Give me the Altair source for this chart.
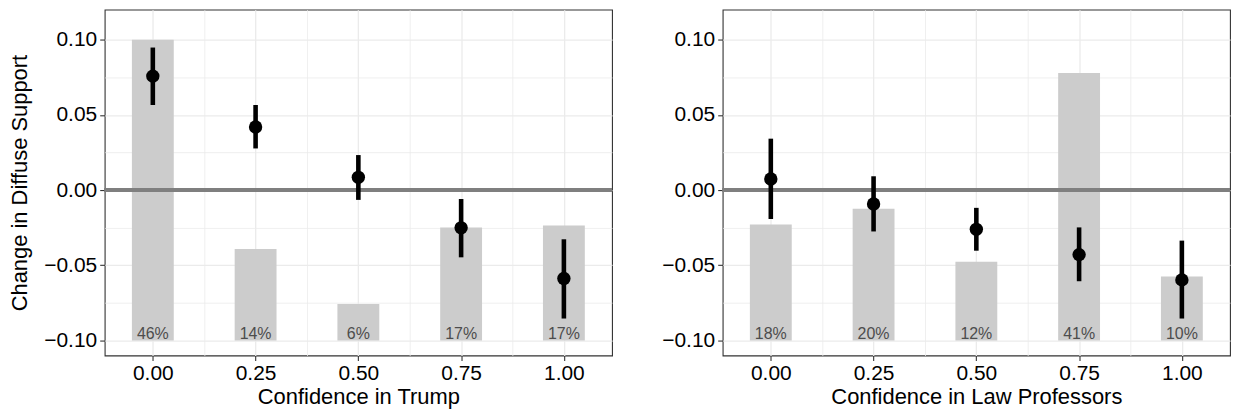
import altair as alt
import pandas as pd

# ---- data ----
conf_levels = [0.00, 0.25, 0.50, 0.75, 1.00]

trump_est = [0.0758, 0.0420, 0.0085, -0.0251, -0.0588]
trump_lo = [0.0566, 0.0277, -0.0065, -0.0447, -0.0854]
trump_hi = [0.0948, 0.0566, 0.0233, -0.0059, -0.0327]
trump_bar_top = [0.1000, -0.0392, -0.0758, -0.0248, -0.0235]
trump_pct = ["46%", "14%", "6%", "17%", "17%"]

law_est = [0.0074, -0.0092, -0.0261, -0.0429, -0.0597]
law_lo = [-0.0192, -0.0275, -0.0403, -0.0606, -0.0854]
law_hi = [0.0342, 0.0092, -0.0118, -0.0248, -0.0336]
law_bar_top = [-0.0229, -0.0124, -0.0477, 0.0778, -0.0575]
law_pct = ["18%", "20%", "12%", "41%", "10%"]

x_ticks = [0.0, 0.125, 0.25, 0.375, 0.5, 0.625, 0.75, 0.875, 1.0]
y_ticks = [-0.10, -0.075, -0.05, -0.025, 0.0, 0.025, 0.05, 0.075, 0.10]
bar_base = -0.10
zero_line = 0.0

FONT = "Liberation Sans"
W = 509
H = 347

x_scale = alt.Scale(domain=[-0.105, 1.105], nice=False, zero=False)
y_scale = alt.Scale(domain=[-0.11, 0.12], nice=False, zero=False)

minor_x = "round(datum.value*8) % 2 != 0"
minor_y = "round(datum.value*40) % 2 != 0"


def x_axis(title):
    return alt.Axis(
        title=title,
        values=x_ticks,
        labelExpr=f"{minor_x} ? '' : format(datum.value, '.2f')",
        tickOpacity={"condition": {"test": minor_x, "value": 0}, "value": 1},
        gridWidth={"condition": {"test": minor_x, "value": 0.8}, "value": 1.3},
        labelOverlap=False,
        labelFlush=False,
        titlePadding=3,
        labelPadding=2,
    )


def y_axis(title):
    return alt.Axis(
        title=title,
        values=y_ticks,
        labelExpr=f"{minor_y} ? '' : format(datum.value, '.2f')",
        tickOpacity={"condition": {"test": minor_y, "value": 0}, "value": 1},
        gridWidth={"condition": {"test": minor_y, "value": 0.8}, "value": 1.3},
        labelOverlap=False,
        labelFlush=False,
        titlePadding=12,
        labelPadding=3,
    )


def panel(est, lo, hi, bar_top, pct, xtitle, ytitle):
    df = pd.DataFrame(
        {"x": conf_levels, "est": est, "lo": lo, "hi": hi, "bar": bar_top, "pct": pct}
    )
    X = alt.X("x:Q", scale=x_scale, axis=x_axis(xtitle))
    yax = y_axis(ytitle)
    base = alt.Chart(df)

    bars = base.mark_bar(size=42, color="#cccccc").encode(
        x=X,
        y=alt.Y("bar:Q", scale=y_scale, axis=yax),
        y2=alt.Y2(datum=bar_base),
    )
    labels = base.mark_text(
        font=FONT, fontSize=16, color="#4d4d4d", baseline="alphabetic", dy=-1
    ).encode(
        x=X,
        y=alt.Y(datum=bar_base, scale=y_scale, axis=yax),
        text="pct:N",
    )
    zero = base.mark_rule(color="#7f7f7f", strokeWidth=4).encode(
        y=alt.Y(datum=zero_line, scale=y_scale, axis=yax),
    )
    errs = base.mark_rule(color="black", strokeWidth=4.6).encode(
        x=X,
        y=alt.Y("lo:Q", scale=y_scale, axis=yax),
        y2="hi:Q",
    )
    pts = base.mark_circle(color="black", opacity=1, size=180).encode(
        x=X,
        y=alt.Y("est:Q", scale=y_scale, axis=yax),
    )
    return alt.layer(bars, labels, zero, errs, pts).properties(width=W, height=H)


left = panel(trump_est, trump_lo, trump_hi, trump_bar_top, trump_pct,
             "Confidence in Trump", "Change in Diffuse Support")
right = panel(law_est, law_lo, law_hi, law_bar_top, law_pct,
              "Confidence in Law Professors", None)

chart = (
    alt.hconcat(left, right, spacing=46)
    .properties(padding={"left": 0, "top": 0, "right": 0, "bottom": 0})
    .configure_view(stroke="#333333", strokeWidth=1.1)
    .configure_axis(
        domain=False,
        grid=True,
        gridColor="#ebebeb",
        tickColor="#333333",
        tickSize=5,
        tickWidth=1.1,
        labelFont=FONT,
        labelFontSize=21,
        labelColor="black",
        titleFont=FONT,
        titleFontSize=22,
        titleFontWeight="normal",
        titleColor="black",
    )
)

chart.save("out.html", embed_options={"renderer": "svg", "actions": False})
